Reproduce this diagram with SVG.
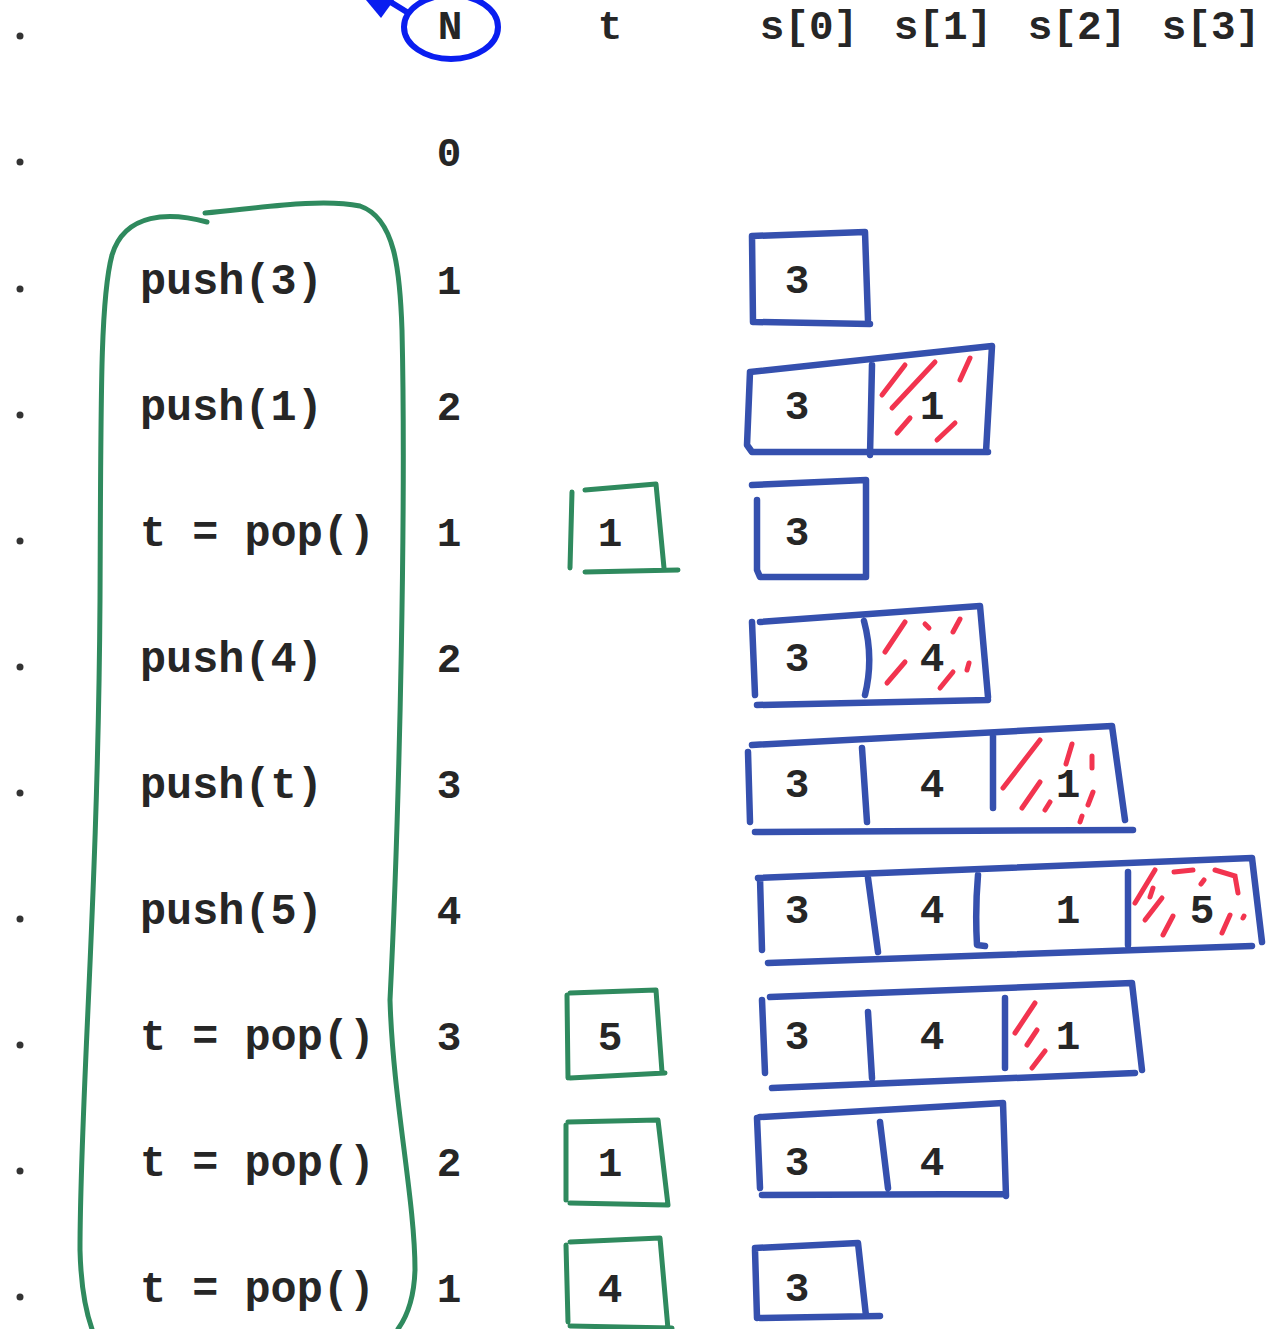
<svg xmlns="http://www.w3.org/2000/svg" width="1266" height="1329" viewBox="0 0 1266 1329">
<style>
text{font-family:"Liberation Mono","Courier New",monospace;font-weight:bold;fill:#262626;}
.code{font-size:43.5px;}
.hd{font-size:41px;text-anchor:middle;}
.num{font-size:41px;text-anchor:middle;}
.bl{fill:none;stroke:#3550ae;stroke-width:6.5;stroke-linecap:round;stroke-linejoin:round;}
.gr{fill:none;stroke:#2f8a5e;stroke-width:5;stroke-linecap:round;stroke-linejoin:round;}
.rd{fill:none;stroke:#f2344f;stroke-width:5;stroke-linecap:round;}
.dot{fill:#333;}
</style>
<rect width="1266" height="1329" fill="#fff"/>

<g id="dots">
<circle class="dot" cx="20" cy="36" r="3.5"/>
<circle class="dot" cx="20" cy="162" r="3.5"/>
<circle class="dot" cx="20" cy="289" r="3.5"/>
<circle class="dot" cx="20" cy="415" r="3.5"/>
<circle class="dot" cx="20" cy="541" r="3.5"/>
<circle class="dot" cx="20" cy="667" r="3.5"/>
<circle class="dot" cx="20" cy="793" r="3.5"/>
<circle class="dot" cx="20" cy="919" r="3.5"/>
<circle class="dot" cx="20" cy="1045" r="3.5"/>
<circle class="dot" cx="20" cy="1171" r="3.5"/>
<circle class="dot" cx="20" cy="1297" r="3.5"/>
</g>

<g id="header">
<ellipse cx="451" cy="27" rx="47" ry="32" fill="none" stroke="#0a1ef0" stroke-width="6"/>
<line x1="410" y1="14" x2="384" y2="-2" stroke="#0a1ef0" stroke-width="6"/>
<polygon points="366,0 394,0 381,18" fill="#0a1ef0"/>
<text class="hd" x="450" y="39">N</text>
<text class="hd" x="610" y="39">t</text>
<text class="hd" x="809" y="39">s[0]</text>
<text class="hd" x="943" y="39">s[1]</text>
<text class="hd" x="1077" y="39">s[2]</text>
<text class="hd" x="1211" y="39">s[3]</text>
</g>

<g id="code">
<path class="gr" d="M207,222 C170,212 125,212 112,255 C100,300 101,400 100,600 C98,900 80,1100 80,1250 C81,1290 87,1315 92,1329"/>
<path class="gr" d="M205,213 C260,208 320,198 360,206 C395,218 400,270 402,330 C406,500 400,800 390,1000 C393,1100 415,1200 415,1270 C414,1300 406,1318 398,1329"/>
<text class="code" x="140" y="294">push(3)</text>
<text class="code" x="140" y="420">push(1)</text>
<text class="code" x="140" y="546">t = pop()</text>
<text class="code" x="140" y="672">push(4)</text>
<text class="code" x="140" y="798">push(t)</text>
<text class="code" x="140" y="924">push(5)</text>
<text class="code" x="140" y="1050">t = pop()</text>
<text class="code" x="140" y="1176">t = pop()</text>
<text class="code" x="140" y="1302">t = pop()</text>
</g>

<g id="ncol">
<text class="num" x="449" y="166">0</text>
<text class="num" x="449" y="294">1</text>
<text class="num" x="449" y="420">2</text>
<text class="num" x="449" y="546">1</text>
<text class="num" x="449" y="672">2</text>
<text class="num" x="449" y="798">3</text>
<text class="num" x="449" y="924">4</text>
<text class="num" x="449" y="1050">3</text>
<text class="num" x="449" y="1176">2</text>
<text class="num" x="449" y="1302">1</text>
</g>

<g id="tcol">
<g id="t-row3">
<path class="gr" d="M572,492 L570,568 M585,490 L656,484 L664,568 M585,572 L678,570"/>
<text class="num" x="610" y="546">1</text>
</g>
<g id="t-row7">
<path class="gr" d="M570,993 L656,990 L662,1072 M567,995 L568,1078 M570,1078 L665,1073"/>
<text class="num" x="610" y="1050">5</text>
</g>
<g id="t-row8">
<path class="gr" d="M568,1122 L658,1120 L668,1205 M566,1125 L566,1200 M570,1203 L668,1205"/>
<text class="num" x="610" y="1176">1</text>
</g>
<g id="t-row9">
<path class="gr" d="M570,1242 L660,1238 L668,1329 M566,1245 L568,1322 M570,1326 L672,1328"/>
<text class="num" x="610" y="1302">4</text>
</g>
</g>

<g id="stack">
<g id="s-row1">
<path class="bl" d="M752,236 L865,232 L868,320 M752,236 L753,322 M755,322 L870,324"/>
<text class="num" x="797" y="293">3</text>
</g>
<g id="s-row2">
<path class="bl" d="M750,372 L992,346 L986,452 M750,372 L747,445 L752,452 L988,452 M872,365 L870,455"/>
<path class="rd" d="M882,395 L905,365 M892,408 L935,362 M897,433 L910,418 M937,440 L955,423 M960,380 L970,358"/>
<text class="num" x="797" y="419">3</text>
<text class="num" x="932" y="419">1</text>
</g>
<g id="s-row3">
<path class="bl" d="M752,485 L866,480 L866,577 M757,500 L757,570 L760,577 L866,577"/>
<text class="num" x="797" y="545">3</text>
</g>
<g id="s-row4">
<path class="bl" d="M760,622 L980,606 L988,697 M752,622 L755,695 M757,705 L988,700 M864,621 Q874,658 865,695"/>
<path class="rd" d="M885,652 L905,622 M887,683 L905,662 M925,624 L929,628 M953,632 L960,619 M940,688 L953,672 M967,670 L969,663"/>
<text class="num" x="797" y="671">3</text>
<text class="num" x="932" y="671">4</text>
</g>
<g id="s-row5">
<path class="bl" d="M752,745 L1112,726 L1125,820 M748,752 L750,822 M755,832 L1133,830 M862,748 L867,822 M993,735 L993,808"/>
<path class="rd" d="M1003,788 L1040,740 M1022,808 L1040,782 M1045,810 L1050,802 M1066,764 L1072,744 M1092,768 L1092,756 M1080,822 L1082,816 M1088,805 L1093,792"/>
<text class="num" x="797" y="797">3</text>
<text class="num" x="932" y="797">4</text>
<text class="num" x="1068" y="797">1</text>
</g>
<g id="s-row6">
<path class="bl" d="M758,878 L1252,858 L1262,942 M760,878 L762,950 M768,963 L1252,946 M868,878 L878,952 M978,875 Q975,910 977,945 L985,946 M1128,872 L1128,945"/>
<path class="rd" d="M1135,903 L1155,870 M1150,897 L1153,888 M1145,920 L1162,898 M1163,935 L1173,916 M1174,872 L1193,870 M1201,884 L1204,880 M1215,870 L1235,876 L1238,893 M1222,933 L1230,915 M1243,918 L1244,916"/>
<text class="num" x="797" y="923">3</text>
<text class="num" x="932" y="923">4</text>
<text class="num" x="1068" y="923">1</text>
<text class="num" x="1202" y="923">5</text>
</g>
<g id="s-row7">
<path class="bl" d="M770,997 L1132,983 L1142,1070 M762,1000 L765,1073 M772,1088 L1135,1073 M868,1012 L872,1078 M1005,998 L1005,1068"/>
<path class="rd" d="M1015,1033 L1035,1003 M1027,1045 L1037,1030 M1032,1068 L1045,1051"/>
<text class="num" x="797" y="1049">3</text>
<text class="num" x="932" y="1049">4</text>
<text class="num" x="1068" y="1049">1</text>
</g>
<g id="s-row8">
<path class="bl" d="M760,1117 L1003,1103 L1006,1196 M757,1118 L760,1188 M762,1195 L1006,1194 M880,1122 L888,1188"/>
<text class="num" x="797" y="1175">3</text>
<text class="num" x="932" y="1175">4</text>
</g>
<g id="s-row9">
<path class="bl" d="M755,1248 L858,1243 L866,1316 M755,1250 L757,1318 M760,1318 L880,1316"/>
<text class="num" x="797" y="1301">3</text>
</g>
</g>
<g id="connectors"/>
</svg>
